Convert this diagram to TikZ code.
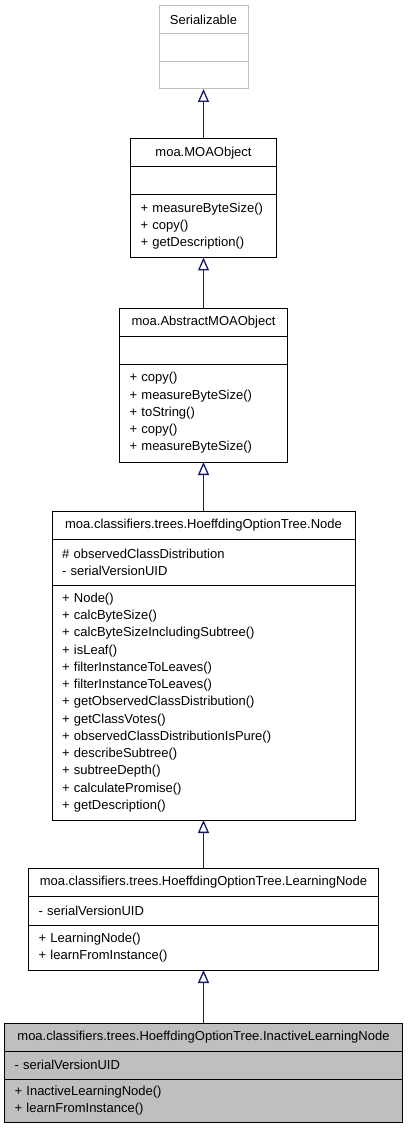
\documentclass[tikz,border=0pt]{standalone}
\usepackage{fontspec}
\setmainfont{Liberation Sans}
\usepackage{tikz}
\usetikzlibrary{arrows.meta,positioning}
\definecolor{inh}{HTML}{191970}
\definecolor{ext}{HTML}{BFBFBF}
\definecolor{cur}{HTML}{BFBFBF}
\tikzset{
  clsbox/.style={draw, outer sep=0pt, inner sep=0pt, line width=1pt, font={\fontsize{13}{17.25}\selectfont}},
  clstitle/.style={clsbox, minimum height=28pt, align=center},
  clspart/.style={clsbox, inner xsep=10pt, align=left},
  extern/.style={draw=ext},
  current/.style={fill=cur},
  plain/.style={},
  inherit/.style={-{Triangle[open, length=13pt, width=11pt]}, draw=inh, line width=1.3pt},
}
% name, top, width, attr height, method height, title, attrs, methods, look
\newcommand{\umlclass}[9]{%
  \pgfmathsetmacro{\tw}{#3-20}
  \node[clstitle, #9, minimum width=#3pt, anchor=north] (#1) at (203.5,#2) {#6};
  \node[clspart, #9, minimum width=#3pt, text width=\tw pt, minimum height=#4pt, below=0pt of #1] (#1-a) {#7};
  \node[clspart, #9, minimum width=#3pt, text width=\tw pt, minimum height=#5pt, below=0pt of #1-a] (#1-m) {#8};
}
\begin{document}
\begin{tikzpicture}[x=1pt,y=-1pt]
  \useasboundingbox (0,0) rectangle (408,1131);
  \umlclass{ser}{6}{89}{28}{27}{Serializable}{}{}{extern}
  \umlclass{moa}{139}{146}{28}{62.5}{moa.MOAObject}{}{+ measureByteSize()\\+ copy()\\+ getDescription()}{plain}
  \umlclass{abs}{308}{168}{28}{98}{moa.AbstractMOAObject}{}{+ copy()\\+ measureByteSize()\\+ toString()\\+ copy()\\+ measureByteSize()}{plain}
  \umlclass{node}{511}{303}{46}{235}{moa.classifiers.trees.HoeffdingOptionTree.Node}%
    {\# observedClassDistribution\\- serialVersionUID}%
    {+ Node()\\+ calcByteSize()\\+ calcByteSizeIncludingSubtree()\\+ isLeaf()\\+ filterInstanceToLeaves()\\+ filterInstanceToLeaves()\\+ getObservedClassDistribution()\\+ getClassVotes()\\+ observedClassDistributionIsPure()\\+ describeSubtree()\\+ subtreeDepth()\\+ calculatePromise()\\+ getDescription()}{plain}
  \umlclass{learn}{868}{350}{29}{45}{moa.classifiers.trees.HoeffdingOptionTree.LearningNode}%
    {- serialVersionUID}{+ LearningNode()\\+ learnFromInstance()}{plain}
  \umlclass{inact}{1023}{398}{28}{43}{moa.classifiers.trees.HoeffdingOptionTree.InactiveLearningNode}%
    {- serialVersionUID}{+ InactiveLearningNode()\\+ learnFromInstance()}{current}
  % generalisation arrows
  \draw[inherit] (moa.north) -- (ser-m.south);
  \draw[inherit] (abs.north) -- (moa-m.south);
  \draw[inherit] (node.north) -- (abs-m.south);
  \draw[inherit] (learn.north) -- (node-m.south);
  \draw[inherit] (inact.north) -- (learn-m.south);
\end{tikzpicture}
\end{document}
